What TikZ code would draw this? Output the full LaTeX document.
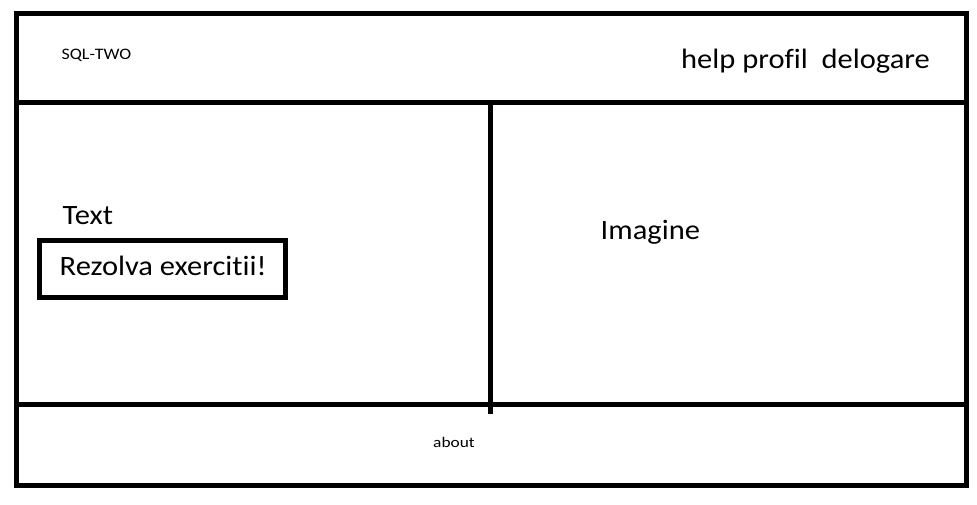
\documentclass[tikz,border=0pt]{standalone}
\usepackage{fontspec}
\setmainfont{Carlito}
\newfontfamily\bigf[FakeStretch=1.09,Ligatures=NoCommon]{Carlito}
\newfontfamily\smallf[FakeStretch=1.12,Ligatures=NoCommon]{Carlito}
\newfontfamily\tinyf[FakeStretch=1.18,Ligatures=NoCommon]{Carlito}
\begin{document}
\begin{tikzpicture}[x=1pt,y=-1pt,
  wire/.style={line width=5pt,line cap=rect,draw=black},
  big/.style={inner sep=0pt,anchor=base west,font=\bigf\fontsize{28}{34}\selectfont},
  small/.style={inner sep=0pt,anchor=base west,font=\smallf\fontsize{16}{19}\selectfont},
  tiny/.style={inner sep=0pt,anchor=base west,font=\tinyf\fontsize{14.7}{18}\selectfont},
  btn/.style={draw=black,line width=5pt,minimum width=246pt,minimum height=57pt,inner sep=0pt}]
\useasboundingbox[fill=white] (0,0) rectangle (977,505);
% frame
\coordinate (tl) at (16.5,14);
\coordinate (br) at (966.5,485.5);
\draw[wire,line join=miter] (tl) rectangle (br);
\coordinate (hl) at (16.5,103);
\coordinate (hr) at (966.5,103);
\draw[wire] (hl) -- (hr);
\coordinate (fl) at (16.5,404);
\coordinate (fr) at (966.5,404);
\draw[wire] (fl) -- (fr);
\coordinate (vt) at (490.5,103);
\coordinate (vb) at (490.5,411);
\draw[wire] (vt) -- (vb);
% texts
\node[small] (logo) at (61.5,60) {SQL-TWO};
\node[big] (menu) at (681,68.3) {help profil~ delogare};
\node[big] (txt) at (62.5,225) {Text};
\node[btn] (box) at (162.5,269) {};
\node[big] (btntxt) at (59.5,275) {Rezolva exercitii!};
\node[big] (img) at (600.5,240) {Imagine};
\node[tiny] (about) at (433,447.7) {about};
\end{tikzpicture}
\end{document}
